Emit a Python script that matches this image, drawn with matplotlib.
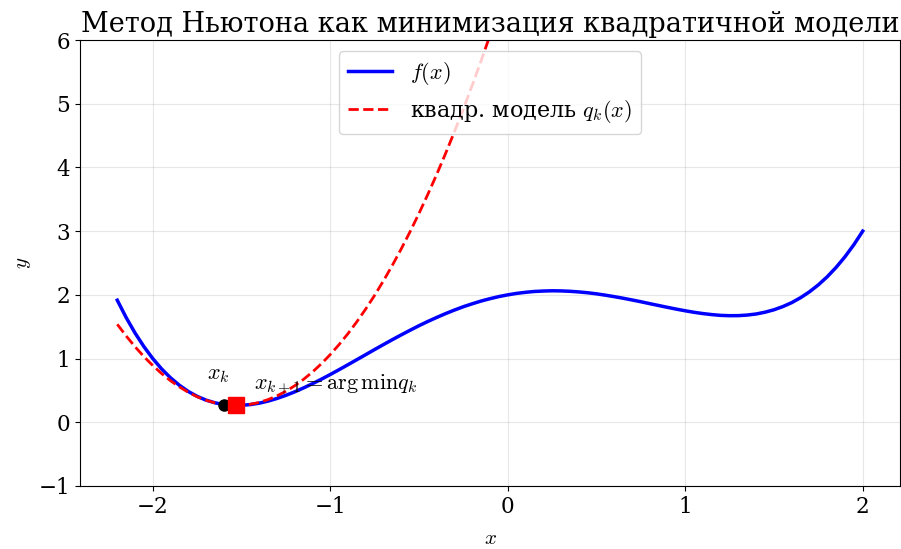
import matplotlib
matplotlib.use('Agg')
import matplotlib.pyplot as plt

plt.rcParams['font.family'] = 'DejaVu Serif'
plt.rcParams['mathtext.fontset'] = 'cm'

# values
x_f = [-2.2, -2.15, -2.1, -2.05, -2.0, -1.95, -1.9, -1.85, -1.8, -1.75, -1.7,
       -1.65, -1.6, -1.55, -1.5, -1.45, -1.4, -1.35, -1.3, -1.25, -1.2, -1.15,
       -1.1, -1.05, -1.0, -0.95, -0.9, -0.85, -0.8, -0.75, -0.7, -0.65, -0.6,
       -0.55, -0.5, -0.45, -0.4, -0.35, -0.3, -0.25, -0.2, -0.15, -0.1, -0.05,
       0.0, 0.05, 0.1, 0.15, 0.2, 0.25, 0.3, 0.35, 0.4, 0.45, 0.5, 0.55, 0.6,
       0.65, 0.7, 0.75, 0.8, 0.85, 0.9, 0.95, 1.0, 1.05, 1.1, 1.15, 1.2, 1.25,
       1.3, 1.35, 1.4, 1.45, 1.5, 1.55, 1.6, 1.65, 1.7, 1.75, 1.8, 1.85, 1.9,
       1.95, 2.0]
y_f = [1.916, 1.644, 1.402, 1.188, 1.000, 0.837, 0.698, 0.581, 0.484, 0.407,
       0.348, 0.306, 0.278, 0.266, 0.266, 0.278, 0.300, 0.333, 0.374, 0.423,
       0.478, 0.540, 0.606, 0.676, 0.750, 0.826, 0.904, 0.983, 1.062, 1.142,
       1.220, 1.297, 1.372, 1.445, 1.516, 1.583, 1.646, 1.706, 1.762, 1.814,
       1.860, 1.903, 1.940, 1.973, 2.000, 2.023, 2.040, 2.053, 2.060, 2.064,
       2.062, 2.056, 2.046, 2.033, 2.016, 1.995, 1.972, 1.947, 1.920, 1.892,
       1.862, 1.833, 1.804, 1.776, 1.750, 1.726, 1.706, 1.690, 1.678, 1.673,
       1.674, 1.683, 1.700, 1.728, 1.766, 1.816, 1.878, 1.956, 2.048, 2.157,
       2.284, 2.431, 2.598, 2.787, 3.000]

x_q = [-2.2, -2.15, -2.1, -2.05, -2.0, -1.95, -1.9, -1.85, -1.8, -1.75, -1.7,
       -1.65, -1.6, -1.55, -1.5, -1.45, -1.4, -1.35, -1.3, -1.25, -1.2, -1.15,
       -1.1, -1.05, -1.0, -0.95, -0.9, -0.85, -0.8, -0.75, -0.7, -0.65, -0.6,
       -0.55, -0.5, -0.45, -0.4, -0.35, -0.3, -0.25, -0.2, -0.15, -0.1, -0.05,
       0.0]
y_q = [1.538, 1.355, 1.186, 1.031, 0.891, 0.765, 0.652, 0.555, 0.471, 0.401,
       0.346, 0.305, 0.278, 0.265, 0.267, 0.283, 0.312, 0.357, 0.415, 0.487,
       0.574, 0.675, 0.790, 0.919, 1.063, 1.221, 1.392, 1.579, 1.779, 1.993,
       2.222, 2.465, 2.722, 2.993, 3.279, 3.579, 3.892, 4.221, 4.563, 4.919,
       5.290, 5.675, 6.074, 6.487, 6.915]

xk, fk = -1.6, 0.278
xk1, fk1 = -1.53, 0.266

fig = plt.figure(figsize=(9.01, 5.49), dpi=100)
ax = fig.add_axes([80/901, 1 - 486/549, 820/901, 446/549])

ax.plot(x_f, y_f, color='blue', lw=2.5, label='$f(x)$')
ax.plot(x_q, y_q, color='red', lw=2, ls='--', label='квадр. модель $q_k(x)$')
ax.plot(xk, fk, 'o', color='black', ms=8, zorder=5)
ax.plot(xk1, fk1, 's', color='red', ms=11, zorder=6)

ax.text(xk - 0.03, fk + 0.3, '$x_k$', fontsize=16, ha='center', va='bottom')
ax.text(xk1 + 0.1, fk1 + 0.12, r'$x_{k+1} = \arg\min q_k$', fontsize=16,
        ha='left', va='bottom')

ax.set_xlim(-2.41, 2.21)
ax.set_ylim(-1, 6)
ax.set_xticks([-2, -1, 0, 1, 2])
ax.tick_params(labelsize=15.5)
ax.set_xlabel('$x$', fontsize=15, labelpad=8)
ax.set_ylabel('$y$', fontsize=15)
ax.set_title('Метод Ньютона как минимизация квадратичной модели', fontsize=19.5)
ax.grid(True, alpha=0.3)
ax.legend(loc='upper center', fontsize=16)

fig.savefig('out.png', dpi=100)
plt.close()
